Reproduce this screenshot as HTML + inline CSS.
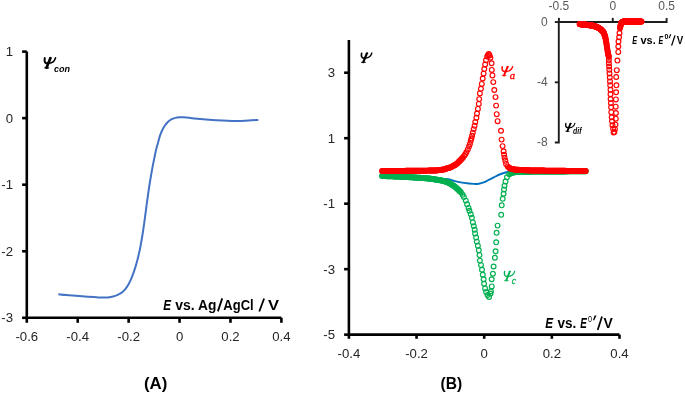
<!DOCTYPE html>
<html><head><meta charset="utf-8"><style>
html,body{margin:0;padding:0;background:#fff;width:685px;height:394px;overflow:hidden;}
svg{display:block;will-change:transform;}

</style></head><body>
<svg width="685" height="394" viewBox="0 0 685 394">
<rect width="685" height="394" fill="#fff"/>
<path d="M26.8,51.60000000000001 V317.79999999999995 H281.4" fill="none" stroke="#000" stroke-width="2.6" stroke-linejoin="miter"/>
<line x1="22.1" y1="51.60" x2="26.8" y2="51.60" stroke="#000" stroke-width="2.6"/>
<line x1="22.1" y1="118.15" x2="26.8" y2="118.15" stroke="#000" stroke-width="2.6"/>
<line x1="22.1" y1="184.70" x2="26.8" y2="184.70" stroke="#000" stroke-width="2.6"/>
<line x1="22.1" y1="251.25" x2="26.8" y2="251.25" stroke="#000" stroke-width="2.6"/>
<line x1="22.1" y1="317.80" x2="26.8" y2="317.80" stroke="#000" stroke-width="2.6"/>
<line x1="26.80" y1="317.79999999999995" x2="26.80" y2="322.8" stroke="#000" stroke-width="2.6"/>
<line x1="77.72" y1="317.79999999999995" x2="77.72" y2="322.8" stroke="#000" stroke-width="2.6"/>
<line x1="128.64" y1="317.79999999999995" x2="128.64" y2="322.8" stroke="#000" stroke-width="2.6"/>
<line x1="179.56" y1="317.79999999999995" x2="179.56" y2="322.8" stroke="#000" stroke-width="2.6"/>
<line x1="230.48" y1="317.79999999999995" x2="230.48" y2="322.8" stroke="#000" stroke-width="2.6"/>
<line x1="281.40" y1="317.79999999999995" x2="281.40" y2="322.8" stroke="#000" stroke-width="2.6"/>
<text x="13" y="56.00" text-anchor="end" font-family="Liberation Sans, sans-serif" font-size="13.2" fill="#262626">1</text>
<text x="13" y="122.55" text-anchor="end" font-family="Liberation Sans, sans-serif" font-size="13.2" fill="#262626">0</text>
<text x="13" y="189.10" text-anchor="end" font-family="Liberation Sans, sans-serif" font-size="13.2" fill="#262626">-1</text>
<text x="13" y="255.65" text-anchor="end" font-family="Liberation Sans, sans-serif" font-size="13.2" fill="#262626">-2</text>
<text x="13" y="322.20" text-anchor="end" font-family="Liberation Sans, sans-serif" font-size="13.2" fill="#262626">-3</text>
<text x="26.80" y="341" text-anchor="middle" font-family="Liberation Sans, sans-serif" font-size="13.2" fill="#262626">-0.6</text>
<text x="77.72" y="341" text-anchor="middle" font-family="Liberation Sans, sans-serif" font-size="13.2" fill="#262626">-0.4</text>
<text x="128.64" y="341" text-anchor="middle" font-family="Liberation Sans, sans-serif" font-size="13.2" fill="#262626">-0.2</text>
<text x="179.56" y="341" text-anchor="middle" font-family="Liberation Sans, sans-serif" font-size="13.2" fill="#262626">0</text>
<text x="230.48" y="341" text-anchor="middle" font-family="Liberation Sans, sans-serif" font-size="13.2" fill="#262626">0.2</text>
<text x="281.40" y="341" text-anchor="middle" font-family="Liberation Sans, sans-serif" font-size="13.2" fill="#262626">0.4</text>
<path d="M58.30,294.30 C59.63,294.43 63.43,294.85 66.30,295.10 C69.17,295.35 72.43,295.57 75.50,295.80 C78.57,296.03 81.62,296.28 84.70,296.50 C87.78,296.72 91.52,296.93 94.00,297.10 C96.48,297.27 97.73,297.42 99.60,297.50 C101.47,297.58 103.33,297.68 105.20,297.60 C107.07,297.52 109.13,297.28 110.80,297.00 C112.47,296.72 113.82,296.37 115.20,295.90 C116.58,295.43 117.88,294.85 119.10,294.20 C120.32,293.55 121.40,292.92 122.50,292.00 C123.60,291.08 124.67,290.02 125.70,288.70 C126.73,287.38 127.81,285.68 128.70,284.10 C129.59,282.52 130.28,281.03 131.06,279.20 C131.84,277.37 132.67,275.12 133.39,273.10 C134.11,271.08 134.76,269.12 135.38,267.10 C136.01,265.08 136.61,262.93 137.14,261.00 C137.66,259.07 138.11,257.23 138.52,255.50 C138.93,253.77 139.26,252.27 139.61,250.60 C139.97,248.93 140.18,248.02 140.64,245.50 C141.10,242.98 141.84,238.82 142.38,235.50 C142.91,232.18 143.38,228.92 143.85,225.60 C144.32,222.28 144.80,218.68 145.21,215.60 C145.63,212.52 146.02,209.45 146.34,207.10 C146.65,204.75 146.74,204.03 147.09,201.50 C147.44,198.97 147.92,195.40 148.44,191.90 C148.95,188.40 149.57,184.28 150.19,180.50 C150.81,176.72 151.51,172.72 152.15,169.20 C152.79,165.68 153.39,162.65 154.05,159.40 C154.70,156.15 155.42,152.52 156.10,149.70 C156.78,146.88 157.43,144.88 158.10,142.50 C158.77,140.12 159.42,137.43 160.10,135.40 C160.78,133.37 161.43,131.90 162.20,130.30 C162.97,128.70 163.77,127.18 164.70,125.80 C165.63,124.42 166.70,123.08 167.80,122.00 C168.90,120.92 170.03,119.98 171.30,119.30 C172.57,118.62 174.05,118.23 175.40,117.90 C176.75,117.57 177.97,117.40 179.40,117.30 C180.83,117.20 181.90,117.15 184.00,117.30 C186.10,117.45 189.32,117.90 192.00,118.20 C194.68,118.50 196.07,118.75 200.10,119.10 C204.13,119.45 210.30,119.97 216.20,120.30 C222.10,120.63 230.15,121.05 235.50,121.10 C240.85,121.15 244.50,120.80 248.30,120.60 C252.10,120.40 256.63,120.02 258.30,119.90" fill="none" stroke="#4472C4" stroke-width="2.0"/>
<text transform="translate(163.29,309.60) scale(0.756,1)" font-family="Liberation Sans, sans-serif" font-size="15.5" font-weight="bold" font-style="italic" fill="#000">E</text>
<text transform="translate(175.34,309.60) scale(0.901,1)" font-family="Liberation Sans, sans-serif" font-size="15.5" font-weight="bold" font-style="normal" fill="#000">vs.</text>
<text transform="translate(197.96,309.60) scale(0.889,1)" font-family="Liberation Sans, sans-serif" font-size="15.5" font-weight="bold" font-style="normal" fill="#000">Ag</text>
<line x1="217.9" y1="311.4" x2="222.2" y2="298.4" stroke="#000" stroke-width="1.8"/>
<text transform="translate(223.37,309.60) scale(0.839,1)" font-family="Liberation Sans, sans-serif" font-size="15.5" font-weight="bold" font-style="normal" fill="#000">AgCl</text>
<line x1="259.3" y1="311.5" x2="264.1" y2="298.5" stroke="#000" stroke-width="1.8"/>
<text transform="translate(267.98,309.60) scale(1.067,1)" font-family="Liberation Sans, sans-serif" font-size="15.5" font-weight="bold" font-style="normal" fill="#000">V</text>
<g transform="translate(43.4,57.3) scale(1.05,1.087)" fill="none" stroke="#000" stroke-linecap="round"><path d="M6.6,0.8 L3.0,9.5" stroke-width="2.50"/><path d="M0.9,9.75 L5.4,9.75" stroke-width="1.12" stroke-linecap="butt"/><path d="M5.5,0.75 L7.9,0.75" stroke-width="1.06" stroke-linecap="butt"/><path d="M1.3,0.7 C1.0,2.5 0.6,5.6 4.0,5.6 L5.2,5.5" stroke-width="1.88"/><path d="M11.6,0.45 C10.9,2.6 10.0,5.4 5.4,5.5" stroke-width="1.50"/></g>
<text transform="translate(54.02,72.00) scale(0.941,1)" font-family="Liberation Sans, sans-serif" font-size="9.6" font-weight="bold" font-style="italic" fill="#000">con</text>
<text transform="translate(143.96,388.90) scale(0.991,1)" font-family="Liberation Sans, sans-serif" font-size="17" font-weight="bold" font-style="normal" fill="#000">(A)</text>
<path d="M348.9,39.98 V334.64 H619.50" fill="none" stroke="#000" stroke-width="2.6"/>
<line x1="344.1" y1="72.72" x2="348.9" y2="72.72" stroke="#000" stroke-width="2.6"/>
<line x1="344.1" y1="138.20" x2="348.9" y2="138.20" stroke="#000" stroke-width="2.6"/>
<line x1="344.1" y1="203.68" x2="348.9" y2="203.68" stroke="#000" stroke-width="2.6"/>
<line x1="344.1" y1="269.16" x2="348.9" y2="269.16" stroke="#000" stroke-width="2.6"/>
<line x1="344.1" y1="334.64" x2="348.9" y2="334.64" stroke="#000" stroke-width="2.6"/>
<line x1="348.90" y1="334.64" x2="348.90" y2="338.8" stroke="#000" stroke-width="2.6"/>
<line x1="416.55" y1="334.64" x2="416.55" y2="338.8" stroke="#000" stroke-width="2.6"/>
<line x1="484.20" y1="334.64" x2="484.20" y2="338.8" stroke="#000" stroke-width="2.6"/>
<line x1="551.85" y1="334.64" x2="551.85" y2="338.8" stroke="#000" stroke-width="2.6"/>
<line x1="619.50" y1="334.64" x2="619.50" y2="338.8" stroke="#000" stroke-width="2.6"/>
<text x="335" y="77.12" text-anchor="end" font-family="Liberation Sans, sans-serif" font-size="13.2" fill="#262626">3</text>
<text x="335" y="142.60" text-anchor="end" font-family="Liberation Sans, sans-serif" font-size="13.2" fill="#262626">1</text>
<text x="335" y="208.08" text-anchor="end" font-family="Liberation Sans, sans-serif" font-size="13.2" fill="#262626">-1</text>
<text x="335" y="273.56" text-anchor="end" font-family="Liberation Sans, sans-serif" font-size="13.2" fill="#262626">-3</text>
<text x="335" y="339.04" text-anchor="end" font-family="Liberation Sans, sans-serif" font-size="13.2" fill="#262626">-5</text>
<text x="348.90" y="357.6" text-anchor="middle" font-family="Liberation Sans, sans-serif" font-size="13.2" fill="#262626">-0.4</text>
<text x="416.55" y="357.6" text-anchor="middle" font-family="Liberation Sans, sans-serif" font-size="13.2" fill="#262626">-0.2</text>
<text x="484.20" y="357.6" text-anchor="middle" font-family="Liberation Sans, sans-serif" font-size="13.2" fill="#262626">0</text>
<text x="551.85" y="357.6" text-anchor="middle" font-family="Liberation Sans, sans-serif" font-size="13.2" fill="#262626">0.2</text>
<text x="619.50" y="357.6" text-anchor="middle" font-family="Liberation Sans, sans-serif" font-size="13.2" fill="#262626">0.4</text>
<path d="M382.00,176.20 C385.00,176.30 393.67,176.50 400.00,176.80 C406.33,177.10 413.33,177.63 420.00,178.00 C426.67,178.37 435.33,178.82 440.00,179.00 C444.67,179.18 445.68,178.78 448.00,179.10 C450.32,179.42 451.25,180.27 453.90,180.90 C456.55,181.53 460.58,182.40 463.90,182.90 C467.22,183.40 471.32,183.77 473.80,183.90 C476.28,184.03 477.15,183.95 478.80,183.70 C480.45,183.45 482.05,183.03 483.70,182.40 C485.35,181.77 487.03,180.73 488.70,179.90 C490.37,179.07 491.88,178.30 493.70,177.40 C495.52,176.50 497.62,175.32 499.60,174.50 C501.58,173.68 504.12,172.92 505.60,172.50 C507.08,172.08 506.10,172.20 508.50,172.00 C510.90,171.80 507.08,171.43 520.00,171.30 C532.92,171.17 575.00,171.22 586.00,171.20" fill="none" stroke="#0070C0" stroke-width="1.9"/>
<g fill="none" stroke="#00B050" stroke-width="1.15"><circle cx="382.00" cy="176.00" r="2.4"/><circle cx="382.68" cy="176.02" r="2.4"/><circle cx="383.36" cy="176.05" r="2.4"/><circle cx="384.04" cy="176.07" r="2.4"/><circle cx="384.72" cy="176.09" r="2.4"/><circle cx="385.40" cy="176.11" r="2.4"/><circle cx="386.08" cy="176.14" r="2.4"/><circle cx="386.76" cy="176.16" r="2.4"/><circle cx="387.44" cy="176.18" r="2.4"/><circle cx="388.12" cy="176.20" r="2.4"/><circle cx="388.80" cy="176.23" r="2.4"/><circle cx="389.48" cy="176.25" r="2.4"/><circle cx="390.16" cy="176.27" r="2.4"/><circle cx="390.84" cy="176.29" r="2.4"/><circle cx="391.52" cy="176.32" r="2.4"/><circle cx="392.20" cy="176.34" r="2.4"/><circle cx="392.88" cy="176.36" r="2.4"/><circle cx="393.56" cy="176.39" r="2.4"/><circle cx="394.24" cy="176.41" r="2.4"/><circle cx="394.92" cy="176.43" r="2.4"/><circle cx="395.60" cy="176.45" r="2.4"/><circle cx="396.28" cy="176.48" r="2.4"/><circle cx="396.96" cy="176.50" r="2.4"/><circle cx="397.64" cy="176.52" r="2.4"/><circle cx="398.32" cy="176.54" r="2.4"/><circle cx="399.00" cy="176.57" r="2.4"/><circle cx="399.68" cy="176.59" r="2.4"/><circle cx="400.36" cy="176.62" r="2.4"/><circle cx="401.04" cy="176.66" r="2.4"/><circle cx="401.72" cy="176.70" r="2.4"/><circle cx="402.40" cy="176.74" r="2.4"/><circle cx="403.08" cy="176.78" r="2.4"/><circle cx="403.76" cy="176.83" r="2.4"/><circle cx="404.44" cy="176.87" r="2.4"/><circle cx="405.12" cy="176.91" r="2.4"/><circle cx="405.80" cy="176.95" r="2.4"/><circle cx="406.48" cy="176.99" r="2.4"/><circle cx="407.16" cy="177.03" r="2.4"/><circle cx="407.84" cy="177.07" r="2.4"/><circle cx="408.52" cy="177.11" r="2.4"/><circle cx="409.20" cy="177.15" r="2.4"/><circle cx="409.88" cy="177.19" r="2.4"/><circle cx="410.56" cy="177.23" r="2.4"/><circle cx="411.24" cy="177.27" r="2.4"/><circle cx="411.92" cy="177.32" r="2.4"/><circle cx="412.60" cy="177.36" r="2.4"/><circle cx="413.28" cy="177.40" r="2.4"/><circle cx="413.96" cy="177.44" r="2.4"/><circle cx="414.64" cy="177.48" r="2.4"/><circle cx="415.32" cy="177.52" r="2.4"/><circle cx="416.00" cy="177.56" r="2.4"/><circle cx="416.68" cy="177.60" r="2.4"/><circle cx="417.36" cy="177.64" r="2.4"/><circle cx="418.04" cy="177.68" r="2.4"/><circle cx="418.72" cy="177.72" r="2.4"/><circle cx="419.40" cy="177.76" r="2.4"/><circle cx="420.08" cy="177.81" r="2.4"/><circle cx="420.76" cy="177.86" r="2.4"/><circle cx="421.44" cy="177.92" r="2.4"/><circle cx="422.12" cy="177.97" r="2.4"/><circle cx="422.80" cy="178.02" r="2.4"/><circle cx="423.48" cy="178.08" r="2.4"/><circle cx="424.16" cy="178.13" r="2.4"/><circle cx="424.84" cy="178.19" r="2.4"/><circle cx="425.52" cy="178.24" r="2.4"/><circle cx="426.20" cy="178.30" r="2.4"/><circle cx="426.88" cy="178.35" r="2.4"/><circle cx="427.56" cy="178.40" r="2.4"/><circle cx="428.24" cy="178.46" r="2.4"/><circle cx="428.92" cy="178.51" r="2.4"/><circle cx="429.60" cy="178.57" r="2.4"/><circle cx="430.28" cy="178.64" r="2.4"/><circle cx="430.96" cy="178.75" r="2.4"/><circle cx="431.64" cy="178.86" r="2.4"/><circle cx="432.32" cy="178.97" r="2.4"/><circle cx="433.00" cy="179.08" r="2.4"/><circle cx="433.68" cy="179.19" r="2.4"/><circle cx="434.36" cy="179.30" r="2.4"/><circle cx="435.04" cy="179.41" r="2.4"/><circle cx="435.72" cy="179.52" r="2.4"/><circle cx="436.40" cy="179.62" r="2.4"/><circle cx="437.08" cy="179.73" r="2.4"/><circle cx="437.76" cy="179.84" r="2.4"/><circle cx="438.44" cy="179.95" r="2.4"/><circle cx="439.12" cy="180.06" r="2.4"/><circle cx="439.80" cy="180.17" r="2.4"/><circle cx="440.48" cy="180.30" r="2.4"/><circle cx="441.16" cy="180.43" r="2.4"/><circle cx="441.84" cy="180.57" r="2.4"/><circle cx="442.52" cy="180.70" r="2.4"/><circle cx="443.20" cy="180.86" r="2.4"/><circle cx="443.88" cy="181.06" r="2.4"/><circle cx="444.56" cy="181.25" r="2.4"/><circle cx="445.24" cy="181.45" r="2.4"/><circle cx="445.92" cy="181.65" r="2.4"/><circle cx="446.60" cy="181.92" r="2.4"/><circle cx="447.28" cy="182.21" r="2.4"/><circle cx="447.96" cy="182.51" r="2.4"/><circle cx="448.64" cy="182.80" r="2.4"/><circle cx="449.32" cy="183.13" r="2.4"/><circle cx="450.00" cy="183.52" r="2.4"/><circle cx="450.68" cy="183.92" r="2.4"/><circle cx="451.36" cy="184.31" r="2.4"/><circle cx="452.04" cy="184.71" r="2.4"/><circle cx="452.72" cy="185.16" r="2.4"/><circle cx="453.40" cy="185.64" r="2.4"/><circle cx="454.08" cy="186.12" r="2.4"/><circle cx="454.76" cy="186.59" r="2.4"/><circle cx="455.44" cy="187.12" r="2.4"/><circle cx="456.12" cy="187.73" r="2.4"/><circle cx="456.80" cy="188.35" r="2.4"/><circle cx="457.48" cy="188.96" r="2.4"/><circle cx="458.16" cy="189.57" r="2.4"/><circle cx="458.84" cy="190.24" r="2.4"/><circle cx="459.52" cy="190.92" r="2.4"/><circle cx="460.20" cy="191.60" r="2.4"/><circle cx="460.88" cy="192.28" r="2.4"/><circle cx="462.60" cy="194.80" r="2.4"/><circle cx="463.90" cy="197.00" r="2.4"/><circle cx="465.80" cy="200.60" r="2.4"/><circle cx="467.10" cy="204.30" r="2.4"/><circle cx="468.50" cy="207.90" r="2.4"/><circle cx="469.40" cy="210.70" r="2.4"/><circle cx="470.80" cy="214.30" r="2.4"/><circle cx="471.90" cy="217.80" r="2.4"/><circle cx="472.90" cy="222.40" r="2.4"/><circle cx="473.80" cy="226.10" r="2.4"/><circle cx="474.70" cy="229.70" r="2.4"/><circle cx="475.10" cy="233.40" r="2.4"/><circle cx="476.10" cy="237.50" r="2.4"/><circle cx="476.80" cy="241.60" r="2.4"/><circle cx="477.90" cy="245.70" r="2.4"/><circle cx="478.80" cy="250.30" r="2.4"/><circle cx="479.50" cy="255.10" r="2.4"/><circle cx="479.90" cy="260.60" r="2.4"/><circle cx="481.00" cy="265.10" r="2.4"/><circle cx="482.00" cy="269.70" r="2.4"/><circle cx="482.80" cy="274.70" r="2.4"/><circle cx="483.60" cy="279.30" r="2.4"/><circle cx="484.10" cy="283.80" r="2.4"/><circle cx="485.10" cy="288.40" r="2.4"/><circle cx="486.10" cy="292.00" r="2.4"/><circle cx="487.60" cy="295.00" r="2.4"/><circle cx="489.10" cy="297.00" r="2.4"/><circle cx="490.50" cy="293.50" r="2.4"/><circle cx="490.90" cy="291.20" r="2.4"/><circle cx="491.70" cy="286.40" r="2.4"/><circle cx="491.70" cy="279.30" r="2.4"/><circle cx="492.90" cy="273.80" r="2.4"/><circle cx="493.60" cy="266.50" r="2.4"/><circle cx="494.90" cy="257.80" r="2.4"/><circle cx="495.60" cy="251.20" r="2.4"/><circle cx="496.20" cy="242.30" r="2.4"/><circle cx="496.60" cy="232.80" r="2.4"/><circle cx="497.60" cy="225.60" r="2.4"/><circle cx="501.20" cy="214.80" r="2.4"/><circle cx="501.70" cy="205.30" r="2.4"/><circle cx="502.70" cy="198.80" r="2.4"/><circle cx="503.60" cy="193.70" r="2.4"/><circle cx="504.00" cy="189.40" r="2.4"/><circle cx="504.50" cy="185.80" r="2.4"/><circle cx="505.50" cy="181.50" r="2.4"/><circle cx="507.00" cy="177.20" r="2.4"/><circle cx="509.40" cy="174.20" r="2.4"/><circle cx="511.00" cy="173.20" r="2.4"/><circle cx="511.68" cy="172.93" r="2.4"/><circle cx="512.36" cy="172.66" r="2.4"/><circle cx="513.04" cy="172.40" r="2.4"/><circle cx="513.72" cy="172.32" r="2.4"/><circle cx="514.40" cy="172.24" r="2.4"/><circle cx="515.08" cy="172.17" r="2.4"/><circle cx="515.76" cy="172.09" r="2.4"/><circle cx="516.44" cy="172.02" r="2.4"/><circle cx="517.12" cy="171.94" r="2.4"/><circle cx="517.80" cy="171.87" r="2.4"/><circle cx="518.48" cy="171.80" r="2.4"/><circle cx="519.16" cy="171.79" r="2.4"/><circle cx="519.84" cy="171.78" r="2.4"/><circle cx="520.52" cy="171.77" r="2.4"/><circle cx="521.20" cy="171.76" r="2.4"/><circle cx="521.88" cy="171.75" r="2.4"/><circle cx="522.56" cy="171.74" r="2.4"/><circle cx="523.24" cy="171.73" r="2.4"/><circle cx="523.92" cy="171.72" r="2.4"/><circle cx="524.60" cy="171.71" r="2.4"/><circle cx="525.28" cy="171.70" r="2.4"/><circle cx="525.96" cy="171.69" r="2.4"/><circle cx="526.64" cy="171.69" r="2.4"/><circle cx="527.32" cy="171.68" r="2.4"/><circle cx="528.00" cy="171.67" r="2.4"/><circle cx="528.68" cy="171.66" r="2.4"/><circle cx="529.36" cy="171.65" r="2.4"/><circle cx="530.04" cy="171.64" r="2.4"/><circle cx="530.72" cy="171.63" r="2.4"/><circle cx="531.40" cy="171.62" r="2.4"/><circle cx="532.08" cy="171.61" r="2.4"/><circle cx="532.76" cy="171.60" r="2.4"/><circle cx="533.44" cy="171.59" r="2.4"/><circle cx="534.12" cy="171.58" r="2.4"/><circle cx="534.80" cy="171.57" r="2.4"/><circle cx="535.48" cy="171.56" r="2.4"/><circle cx="536.16" cy="171.55" r="2.4"/><circle cx="536.84" cy="171.54" r="2.4"/><circle cx="537.52" cy="171.53" r="2.4"/><circle cx="538.20" cy="171.53" r="2.4"/><circle cx="538.88" cy="171.52" r="2.4"/><circle cx="539.56" cy="171.51" r="2.4"/><circle cx="540.24" cy="171.50" r="2.4"/><circle cx="540.92" cy="171.50" r="2.4"/><circle cx="541.60" cy="171.49" r="2.4"/><circle cx="542.28" cy="171.49" r="2.4"/><circle cx="542.96" cy="171.49" r="2.4"/><circle cx="543.64" cy="171.48" r="2.4"/><circle cx="544.32" cy="171.48" r="2.4"/><circle cx="545.00" cy="171.48" r="2.4"/><circle cx="545.68" cy="171.48" r="2.4"/><circle cx="546.36" cy="171.47" r="2.4"/><circle cx="547.04" cy="171.47" r="2.4"/><circle cx="547.72" cy="171.47" r="2.4"/><circle cx="548.40" cy="171.46" r="2.4"/><circle cx="549.08" cy="171.46" r="2.4"/><circle cx="549.76" cy="171.46" r="2.4"/><circle cx="550.44" cy="171.45" r="2.4"/><circle cx="551.12" cy="171.45" r="2.4"/><circle cx="551.80" cy="171.45" r="2.4"/><circle cx="552.48" cy="171.45" r="2.4"/><circle cx="553.16" cy="171.44" r="2.4"/><circle cx="553.84" cy="171.44" r="2.4"/><circle cx="554.52" cy="171.44" r="2.4"/><circle cx="555.20" cy="171.43" r="2.4"/><circle cx="555.88" cy="171.43" r="2.4"/><circle cx="556.56" cy="171.43" r="2.4"/><circle cx="557.24" cy="171.43" r="2.4"/><circle cx="557.92" cy="171.42" r="2.4"/><circle cx="558.60" cy="171.42" r="2.4"/><circle cx="559.28" cy="171.42" r="2.4"/><circle cx="559.96" cy="171.41" r="2.4"/><circle cx="560.64" cy="171.41" r="2.4"/><circle cx="561.32" cy="171.41" r="2.4"/><circle cx="562.00" cy="171.40" r="2.4"/><circle cx="562.68" cy="171.40" r="2.4"/><circle cx="563.36" cy="171.40" r="2.4"/><circle cx="564.04" cy="171.40" r="2.4"/><circle cx="564.72" cy="171.39" r="2.4"/><circle cx="565.40" cy="171.39" r="2.4"/><circle cx="566.08" cy="171.39" r="2.4"/><circle cx="566.76" cy="171.38" r="2.4"/><circle cx="567.44" cy="171.38" r="2.4"/><circle cx="568.12" cy="171.38" r="2.4"/><circle cx="568.80" cy="171.37" r="2.4"/><circle cx="569.48" cy="171.37" r="2.4"/><circle cx="570.16" cy="171.37" r="2.4"/><circle cx="570.84" cy="171.37" r="2.4"/><circle cx="571.52" cy="171.36" r="2.4"/><circle cx="572.20" cy="171.36" r="2.4"/><circle cx="572.88" cy="171.36" r="2.4"/><circle cx="573.56" cy="171.35" r="2.4"/><circle cx="574.24" cy="171.35" r="2.4"/><circle cx="574.92" cy="171.35" r="2.4"/><circle cx="575.60" cy="171.35" r="2.4"/><circle cx="576.28" cy="171.34" r="2.4"/><circle cx="576.96" cy="171.34" r="2.4"/><circle cx="577.64" cy="171.34" r="2.4"/><circle cx="578.32" cy="171.33" r="2.4"/><circle cx="579.00" cy="171.33" r="2.4"/><circle cx="579.68" cy="171.33" r="2.4"/><circle cx="580.36" cy="171.32" r="2.4"/><circle cx="581.04" cy="171.32" r="2.4"/><circle cx="581.72" cy="171.32" r="2.4"/><circle cx="582.40" cy="171.32" r="2.4"/><circle cx="583.08" cy="171.31" r="2.4"/><circle cx="583.76" cy="171.31" r="2.4"/><circle cx="584.44" cy="171.31" r="2.4"/><circle cx="585.12" cy="171.30" r="2.4"/><circle cx="585.80" cy="171.30" r="2.4"/></g>
<g fill="none" stroke="#FF0000" stroke-width="1.15"><circle cx="382.00" cy="171.00" r="2.4"/><circle cx="382.68" cy="171.00" r="2.4"/><circle cx="383.36" cy="170.99" r="2.4"/><circle cx="384.04" cy="170.99" r="2.4"/><circle cx="384.72" cy="170.98" r="2.4"/><circle cx="385.40" cy="170.98" r="2.4"/><circle cx="386.08" cy="170.98" r="2.4"/><circle cx="386.76" cy="170.97" r="2.4"/><circle cx="387.44" cy="170.97" r="2.4"/><circle cx="388.12" cy="170.97" r="2.4"/><circle cx="388.80" cy="170.96" r="2.4"/><circle cx="389.48" cy="170.96" r="2.4"/><circle cx="390.16" cy="170.95" r="2.4"/><circle cx="390.84" cy="170.95" r="2.4"/><circle cx="391.52" cy="170.95" r="2.4"/><circle cx="392.20" cy="170.94" r="2.4"/><circle cx="392.88" cy="170.94" r="2.4"/><circle cx="393.56" cy="170.94" r="2.4"/><circle cx="394.24" cy="170.93" r="2.4"/><circle cx="394.92" cy="170.93" r="2.4"/><circle cx="395.60" cy="170.92" r="2.4"/><circle cx="396.28" cy="170.92" r="2.4"/><circle cx="396.96" cy="170.92" r="2.4"/><circle cx="397.64" cy="170.91" r="2.4"/><circle cx="398.32" cy="170.91" r="2.4"/><circle cx="399.00" cy="170.91" r="2.4"/><circle cx="399.68" cy="170.90" r="2.4"/><circle cx="400.36" cy="170.90" r="2.4"/><circle cx="401.04" cy="170.89" r="2.4"/><circle cx="401.72" cy="170.88" r="2.4"/><circle cx="402.40" cy="170.88" r="2.4"/><circle cx="403.08" cy="170.87" r="2.4"/><circle cx="403.76" cy="170.86" r="2.4"/><circle cx="404.44" cy="170.86" r="2.4"/><circle cx="405.12" cy="170.85" r="2.4"/><circle cx="405.80" cy="170.84" r="2.4"/><circle cx="406.48" cy="170.84" r="2.4"/><circle cx="407.16" cy="170.83" r="2.4"/><circle cx="407.84" cy="170.82" r="2.4"/><circle cx="408.52" cy="170.81" r="2.4"/><circle cx="409.20" cy="170.81" r="2.4"/><circle cx="409.88" cy="170.80" r="2.4"/><circle cx="410.56" cy="170.79" r="2.4"/><circle cx="411.24" cy="170.79" r="2.4"/><circle cx="411.92" cy="170.78" r="2.4"/><circle cx="412.60" cy="170.77" r="2.4"/><circle cx="413.28" cy="170.77" r="2.4"/><circle cx="413.96" cy="170.76" r="2.4"/><circle cx="414.64" cy="170.75" r="2.4"/><circle cx="415.32" cy="170.75" r="2.4"/><circle cx="416.00" cy="170.74" r="2.4"/><circle cx="416.68" cy="170.73" r="2.4"/><circle cx="417.36" cy="170.73" r="2.4"/><circle cx="418.04" cy="170.72" r="2.4"/><circle cx="418.72" cy="170.71" r="2.4"/><circle cx="419.40" cy="170.71" r="2.4"/><circle cx="420.08" cy="170.70" r="2.4"/><circle cx="420.76" cy="170.69" r="2.4"/><circle cx="421.44" cy="170.68" r="2.4"/><circle cx="422.12" cy="170.67" r="2.4"/><circle cx="422.80" cy="170.66" r="2.4"/><circle cx="423.48" cy="170.66" r="2.4"/><circle cx="424.16" cy="170.65" r="2.4"/><circle cx="424.84" cy="170.64" r="2.4"/><circle cx="425.52" cy="170.63" r="2.4"/><circle cx="426.20" cy="170.62" r="2.4"/><circle cx="426.88" cy="170.61" r="2.4"/><circle cx="427.56" cy="170.61" r="2.4"/><circle cx="428.24" cy="170.60" r="2.4"/><circle cx="428.92" cy="170.59" r="2.4"/><circle cx="429.60" cy="170.58" r="2.4"/><circle cx="430.28" cy="170.57" r="2.4"/><circle cx="430.96" cy="170.56" r="2.4"/><circle cx="431.64" cy="170.55" r="2.4"/><circle cx="432.32" cy="170.55" r="2.4"/><circle cx="433.00" cy="170.54" r="2.4"/><circle cx="433.68" cy="170.53" r="2.4"/><circle cx="434.36" cy="170.52" r="2.4"/><circle cx="435.04" cy="170.51" r="2.4"/><circle cx="435.72" cy="170.50" r="2.4"/><circle cx="436.40" cy="170.45" r="2.4"/><circle cx="437.08" cy="170.36" r="2.4"/><circle cx="437.76" cy="170.27" r="2.4"/><circle cx="438.44" cy="170.18" r="2.4"/><circle cx="439.12" cy="170.09" r="2.4"/><circle cx="439.80" cy="170.00" r="2.4"/><circle cx="440.48" cy="169.91" r="2.4"/><circle cx="441.16" cy="169.82" r="2.4"/><circle cx="441.84" cy="169.73" r="2.4"/><circle cx="442.52" cy="169.64" r="2.4"/><circle cx="443.20" cy="169.55" r="2.4"/><circle cx="443.88" cy="169.41" r="2.4"/><circle cx="444.56" cy="169.20" r="2.4"/><circle cx="445.24" cy="168.98" r="2.4"/><circle cx="445.92" cy="168.77" r="2.4"/><circle cx="446.60" cy="168.55" r="2.4"/><circle cx="447.28" cy="168.34" r="2.4"/><circle cx="447.96" cy="168.12" r="2.4"/><circle cx="448.64" cy="167.91" r="2.4"/><circle cx="449.32" cy="167.69" r="2.4"/><circle cx="450.00" cy="167.48" r="2.4"/><circle cx="450.68" cy="167.26" r="2.4"/><circle cx="451.36" cy="167.01" r="2.4"/><circle cx="452.04" cy="166.62" r="2.4"/><circle cx="452.72" cy="166.23" r="2.4"/><circle cx="453.40" cy="165.84" r="2.4"/><circle cx="454.08" cy="165.45" r="2.4"/><circle cx="454.76" cy="165.06" r="2.4"/><circle cx="455.44" cy="164.67" r="2.4"/><circle cx="456.12" cy="164.28" r="2.4"/><circle cx="456.80" cy="163.80" r="2.4"/><circle cx="457.48" cy="163.12" r="2.4"/><circle cx="458.16" cy="162.44" r="2.4"/><circle cx="458.84" cy="161.76" r="2.4"/><circle cx="459.52" cy="161.08" r="2.4"/><circle cx="460.20" cy="160.40" r="2.4"/><circle cx="460.88" cy="159.69" r="2.4"/><circle cx="461.56" cy="158.96" r="2.4"/><circle cx="462.24" cy="158.23" r="2.4"/><circle cx="462.92" cy="157.50" r="2.4"/><circle cx="464.20" cy="155.80" r="2.4"/><circle cx="465.30" cy="154.30" r="2.4"/><circle cx="466.40" cy="152.20" r="2.4"/><circle cx="467.80" cy="149.40" r="2.4"/><circle cx="469.00" cy="146.50" r="2.4"/><circle cx="469.90" cy="143.90" r="2.4"/><circle cx="470.80" cy="140.70" r="2.4"/><circle cx="471.40" cy="138.50" r="2.4"/><circle cx="472.10" cy="135.70" r="2.4"/><circle cx="472.80" cy="132.80" r="2.4"/><circle cx="473.70" cy="129.10" r="2.4"/><circle cx="474.60" cy="125.80" r="2.4"/><circle cx="475.30" cy="122.00" r="2.4"/><circle cx="476.40" cy="117.80" r="2.4"/><circle cx="477.00" cy="113.50" r="2.4"/><circle cx="477.90" cy="108.90" r="2.4"/><circle cx="478.80" cy="103.90" r="2.4"/><circle cx="479.20" cy="99.10" r="2.4"/><circle cx="479.90" cy="93.40" r="2.4"/><circle cx="480.90" cy="88.80" r="2.4"/><circle cx="481.80" cy="83.90" r="2.4"/><circle cx="482.70" cy="78.50" r="2.4"/><circle cx="483.60" cy="73.60" r="2.4"/><circle cx="484.30" cy="69.00" r="2.4"/><circle cx="485.10" cy="64.40" r="2.4"/><circle cx="486.00" cy="60.20" r="2.4"/><circle cx="487.20" cy="56.50" r="2.4"/><circle cx="488.00" cy="55.00" r="2.4"/><circle cx="488.80" cy="54.10" r="2.4"/><circle cx="489.60" cy="55.40" r="2.4"/><circle cx="490.40" cy="57.70" r="2.4"/><circle cx="491.60" cy="63.20" r="2.4"/><circle cx="491.80" cy="69.90" r="2.4"/><circle cx="492.40" cy="75.40" r="2.4"/><circle cx="493.30" cy="82.10" r="2.4"/><circle cx="494.30" cy="90.00" r="2.4"/><circle cx="495.50" cy="97.10" r="2.4"/><circle cx="496.10" cy="105.60" r="2.4"/><circle cx="496.70" cy="114.20" r="2.4"/><circle cx="497.60" cy="121.20" r="2.4"/><circle cx="501.00" cy="130.70" r="2.4"/><circle cx="501.60" cy="139.60" r="2.4"/><circle cx="502.60" cy="146.10" r="2.4"/><circle cx="503.60" cy="151.20" r="2.4"/><circle cx="504.10" cy="154.80" r="2.4"/><circle cx="504.60" cy="157.80" r="2.4"/><circle cx="505.30" cy="160.80" r="2.4"/><circle cx="506.10" cy="163.90" r="2.4"/><circle cx="507.70" cy="166.40" r="2.4"/><circle cx="508.90" cy="167.60" r="2.4"/><circle cx="509.58" cy="168.07" r="2.4"/><circle cx="510.26" cy="168.51" r="2.4"/><circle cx="510.94" cy="168.69" r="2.4"/><circle cx="511.62" cy="168.85" r="2.4"/><circle cx="512.30" cy="169.02" r="2.4"/><circle cx="512.98" cy="169.19" r="2.4"/><circle cx="513.66" cy="169.37" r="2.4"/><circle cx="514.34" cy="169.51" r="2.4"/><circle cx="515.02" cy="169.56" r="2.4"/><circle cx="515.70" cy="169.61" r="2.4"/><circle cx="516.38" cy="169.65" r="2.4"/><circle cx="517.06" cy="169.70" r="2.4"/><circle cx="517.74" cy="169.75" r="2.4"/><circle cx="518.42" cy="169.80" r="2.4"/><circle cx="519.10" cy="169.85" r="2.4"/><circle cx="519.78" cy="169.89" r="2.4"/><circle cx="520.46" cy="169.94" r="2.4"/><circle cx="521.14" cy="169.99" r="2.4"/><circle cx="521.82" cy="170.02" r="2.4"/><circle cx="522.50" cy="170.06" r="2.4"/><circle cx="523.18" cy="170.09" r="2.4"/><circle cx="523.86" cy="170.12" r="2.4"/><circle cx="524.54" cy="170.15" r="2.4"/><circle cx="525.22" cy="170.18" r="2.4"/><circle cx="525.90" cy="170.21" r="2.4"/><circle cx="526.58" cy="170.24" r="2.4"/><circle cx="527.26" cy="170.27" r="2.4"/><circle cx="527.94" cy="170.31" r="2.4"/><circle cx="528.62" cy="170.34" r="2.4"/><circle cx="529.30" cy="170.37" r="2.4"/><circle cx="529.98" cy="170.40" r="2.4"/><circle cx="530.66" cy="170.41" r="2.4"/><circle cx="531.34" cy="170.42" r="2.4"/><circle cx="532.02" cy="170.43" r="2.4"/><circle cx="532.70" cy="170.44" r="2.4"/><circle cx="533.38" cy="170.45" r="2.4"/><circle cx="534.06" cy="170.45" r="2.4"/><circle cx="534.74" cy="170.46" r="2.4"/><circle cx="535.42" cy="170.47" r="2.4"/><circle cx="536.10" cy="170.48" r="2.4"/><circle cx="536.78" cy="170.49" r="2.4"/><circle cx="537.46" cy="170.50" r="2.4"/><circle cx="538.14" cy="170.51" r="2.4"/><circle cx="538.82" cy="170.52" r="2.4"/><circle cx="539.50" cy="170.53" r="2.4"/><circle cx="540.18" cy="170.54" r="2.4"/><circle cx="540.86" cy="170.54" r="2.4"/><circle cx="541.54" cy="170.55" r="2.4"/><circle cx="542.22" cy="170.56" r="2.4"/><circle cx="542.90" cy="170.57" r="2.4"/><circle cx="543.58" cy="170.58" r="2.4"/><circle cx="544.26" cy="170.59" r="2.4"/><circle cx="544.94" cy="170.60" r="2.4"/><circle cx="545.62" cy="170.61" r="2.4"/><circle cx="546.30" cy="170.62" r="2.4"/><circle cx="546.98" cy="170.63" r="2.4"/><circle cx="547.66" cy="170.64" r="2.4"/><circle cx="548.34" cy="170.64" r="2.4"/><circle cx="549.02" cy="170.65" r="2.4"/><circle cx="549.70" cy="170.66" r="2.4"/><circle cx="550.38" cy="170.67" r="2.4"/><circle cx="551.06" cy="170.68" r="2.4"/><circle cx="551.74" cy="170.69" r="2.4"/><circle cx="552.42" cy="170.70" r="2.4"/><circle cx="553.10" cy="170.71" r="2.4"/><circle cx="553.78" cy="170.72" r="2.4"/><circle cx="554.46" cy="170.73" r="2.4"/><circle cx="555.14" cy="170.74" r="2.4"/><circle cx="555.82" cy="170.74" r="2.4"/><circle cx="556.50" cy="170.75" r="2.4"/><circle cx="557.18" cy="170.76" r="2.4"/><circle cx="557.86" cy="170.77" r="2.4"/><circle cx="558.54" cy="170.78" r="2.4"/><circle cx="559.22" cy="170.79" r="2.4"/><circle cx="559.90" cy="170.80" r="2.4"/><circle cx="560.58" cy="170.80" r="2.4"/><circle cx="561.26" cy="170.81" r="2.4"/><circle cx="561.94" cy="170.81" r="2.4"/><circle cx="562.62" cy="170.82" r="2.4"/><circle cx="563.30" cy="170.83" r="2.4"/><circle cx="563.98" cy="170.83" r="2.4"/><circle cx="564.66" cy="170.84" r="2.4"/><circle cx="565.34" cy="170.84" r="2.4"/><circle cx="566.02" cy="170.85" r="2.4"/><circle cx="566.70" cy="170.85" r="2.4"/><circle cx="567.38" cy="170.86" r="2.4"/><circle cx="568.06" cy="170.86" r="2.4"/><circle cx="568.74" cy="170.87" r="2.4"/><circle cx="569.42" cy="170.87" r="2.4"/><circle cx="570.10" cy="170.88" r="2.4"/><circle cx="570.78" cy="170.88" r="2.4"/><circle cx="571.46" cy="170.89" r="2.4"/><circle cx="572.14" cy="170.89" r="2.4"/><circle cx="572.82" cy="170.90" r="2.4"/><circle cx="573.50" cy="170.90" r="2.4"/><circle cx="574.18" cy="170.91" r="2.4"/><circle cx="574.86" cy="170.91" r="2.4"/><circle cx="575.54" cy="170.92" r="2.4"/><circle cx="576.22" cy="170.92" r="2.4"/><circle cx="576.90" cy="170.93" r="2.4"/><circle cx="577.58" cy="170.94" r="2.4"/><circle cx="578.26" cy="170.94" r="2.4"/><circle cx="578.94" cy="170.95" r="2.4"/><circle cx="579.62" cy="170.95" r="2.4"/><circle cx="580.30" cy="170.96" r="2.4"/><circle cx="580.98" cy="170.96" r="2.4"/><circle cx="581.66" cy="170.97" r="2.4"/><circle cx="582.34" cy="170.97" r="2.4"/><circle cx="583.02" cy="170.98" r="2.4"/><circle cx="583.70" cy="170.98" r="2.4"/><circle cx="584.38" cy="170.99" r="2.4"/><circle cx="585.06" cy="170.99" r="2.4"/><circle cx="585.74" cy="171.00" r="2.4"/></g>
<text transform="translate(545.29,327.80) scale(0.756,1)" font-family="Liberation Sans, sans-serif" font-size="15.5" font-weight="bold" font-style="italic" fill="#000">E</text>
<text transform="translate(557.45,327.80) scale(0.872,1)" font-family="Liberation Sans, sans-serif" font-size="15.5" font-weight="bold" font-style="normal" fill="#000">vs.</text>
<text transform="translate(580.22,327.80) scale(0.641,1)" font-family="Liberation Sans, sans-serif" font-size="15.5" font-weight="bold" font-style="italic" fill="#000">E</text>
<text transform="translate(587.92,322.20) scale(0.749,1)" font-family="Liberation Sans, sans-serif" font-size="9.5" font-weight="normal" font-style="normal" fill="#000">0</text>
<path d="M593.0,320.2 L594.3,320.2 L596.4,315.6 L594.6,315.6 Z" fill="#000"/>
<line x1="597.7" y1="330.0" x2="602.0" y2="316.4" stroke="#000" stroke-width="1.7"/>
<text transform="translate(603.60,327.80) scale(0.899,1)" font-family="Liberation Sans, sans-serif" font-size="15.5" font-weight="bold" font-style="normal" fill="#000">V</text>
<g transform="translate(360.3,52.6) scale(1.0,1.0)" fill="none" stroke="#000" stroke-linecap="round"><path d="M6.6,0.8 L3.0,9.5" stroke-width="2.24"/><path d="M0.9,9.75 L5.4,9.75" stroke-width="1.01" stroke-linecap="butt"/><path d="M5.5,0.75 L7.9,0.75" stroke-width="0.95" stroke-linecap="butt"/><path d="M1.3,0.7 C1.0,2.5 0.6,5.6 4.0,5.6 L5.2,5.5" stroke-width="1.68"/><path d="M11.6,0.45 C10.9,2.6 10.0,5.4 5.4,5.5" stroke-width="1.34"/></g>
<g transform="translate(500.9,66.0) scale(1.025,0.99)" fill="none" stroke="#FF0000" stroke-linecap="round"><path d="M6.6,0.8 L3.0,9.5" stroke-width="1.90"/><path d="M0.9,9.75 L5.4,9.75" stroke-width="0.85" stroke-linecap="butt"/><path d="M5.5,0.75 L7.9,0.75" stroke-width="0.81" stroke-linecap="butt"/><path d="M1.3,0.7 C1.0,2.5 0.6,5.6 4.0,5.6 L5.2,5.5" stroke-width="1.42"/><path d="M11.6,0.45 C10.9,2.6 10.0,5.4 5.4,5.5" stroke-width="1.14"/></g>
<text transform="translate(509.78,78.50) scale(1.024,1)" font-family="Liberation Serif, serif" font-size="10.4" font-weight="normal" font-style="italic" fill="#FF0000" stroke="#FF0000" stroke-width="0.35">a</text>
<g transform="translate(503.3,270.8) scale(0.983,1.01)" fill="none" stroke="#00B050" stroke-linecap="round"><path d="M6.6,0.8 L3.0,9.5" stroke-width="1.90"/><path d="M0.9,9.75 L5.4,9.75" stroke-width="0.85" stroke-linecap="butt"/><path d="M5.5,0.75 L7.9,0.75" stroke-width="0.81" stroke-linecap="butt"/><path d="M1.3,0.7 C1.0,2.5 0.6,5.6 4.0,5.6 L5.2,5.5" stroke-width="1.42"/><path d="M11.6,0.45 C10.9,2.6 10.0,5.4 5.4,5.5" stroke-width="1.14"/></g>
<text transform="translate(511.72,283.60) scale(0.829,1)" font-family="Liberation Serif, serif" font-size="10.8" font-weight="normal" font-style="italic" fill="#00B050" stroke="#00B050" stroke-width="0.35">c</text>
<text transform="translate(440.52,388.90) scale(0.918,1)" font-family="Liberation Sans, sans-serif" font-size="17" font-weight="bold" font-style="normal" fill="#000">(B)</text>
<path d="M666.60,17.9 V22.05 H558.90 M558.8,22.05 V142.57 H554.8" fill="none" stroke="#1e1e1e" stroke-width="1.9"/>
<g stroke="#1e1e1e" stroke-width="1.9">
<line x1="558.90" y1="17.9" x2="558.90" y2="22.05"/>
<line x1="612.75" y1="17.9" x2="612.75" y2="22.05"/>
<line x1="554.8" y1="22.05" x2="558.8" y2="22.05"/>
<line x1="554.8" y1="82.31" x2="558.8" y2="82.31"/>
</g>
<g fill="none" stroke="#FF0000" stroke-width="1.15"><circle cx="579.60" cy="24.10" r="2.4"/><circle cx="579.81" cy="24.12" r="2.4"/><circle cx="580.01" cy="24.14" r="2.4"/><circle cx="580.22" cy="24.16" r="2.4"/><circle cx="580.43" cy="24.18" r="2.4"/><circle cx="580.63" cy="24.20" r="2.4"/><circle cx="580.84" cy="24.22" r="2.4"/><circle cx="581.05" cy="24.24" r="2.4"/><circle cx="581.26" cy="24.26" r="2.4"/><circle cx="581.46" cy="24.28" r="2.4"/><circle cx="581.67" cy="24.30" r="2.4"/><circle cx="581.88" cy="24.32" r="2.4"/><circle cx="582.08" cy="24.34" r="2.4"/><circle cx="582.29" cy="24.36" r="2.4"/><circle cx="582.50" cy="24.39" r="2.4"/><circle cx="582.70" cy="24.41" r="2.4"/><circle cx="582.91" cy="24.43" r="2.4"/><circle cx="583.12" cy="24.45" r="2.4"/><circle cx="583.33" cy="24.47" r="2.4"/><circle cx="583.53" cy="24.49" r="2.4"/><circle cx="583.74" cy="24.51" r="2.4"/><circle cx="583.95" cy="24.53" r="2.4"/><circle cx="584.15" cy="24.55" r="2.4"/><circle cx="584.36" cy="24.57" r="2.4"/><circle cx="584.57" cy="24.59" r="2.4"/><circle cx="584.77" cy="24.61" r="2.4"/><circle cx="584.98" cy="24.63" r="2.4"/><circle cx="585.19" cy="24.65" r="2.4"/><circle cx="585.40" cy="24.67" r="2.4"/><circle cx="585.60" cy="24.69" r="2.4"/><circle cx="585.81" cy="24.71" r="2.4"/><circle cx="586.02" cy="24.74" r="2.4"/><circle cx="586.22" cy="24.77" r="2.4"/><circle cx="586.43" cy="24.80" r="2.4"/><circle cx="586.64" cy="24.82" r="2.4"/><circle cx="586.84" cy="24.85" r="2.4"/><circle cx="587.05" cy="24.88" r="2.4"/><circle cx="587.26" cy="24.90" r="2.4"/><circle cx="587.47" cy="24.93" r="2.4"/><circle cx="587.67" cy="24.96" r="2.4"/><circle cx="587.88" cy="24.99" r="2.4"/><circle cx="588.09" cy="25.01" r="2.4"/><circle cx="588.29" cy="25.04" r="2.4"/><circle cx="588.50" cy="25.07" r="2.4"/><circle cx="588.71" cy="25.09" r="2.4"/><circle cx="588.91" cy="25.12" r="2.4"/><circle cx="589.12" cy="25.15" r="2.4"/><circle cx="589.33" cy="25.18" r="2.4"/><circle cx="589.54" cy="25.20" r="2.4"/><circle cx="589.74" cy="25.23" r="2.4"/><circle cx="589.95" cy="25.26" r="2.4"/><circle cx="590.16" cy="25.28" r="2.4"/><circle cx="590.36" cy="25.31" r="2.4"/><circle cx="590.57" cy="25.34" r="2.4"/><circle cx="590.78" cy="25.37" r="2.4"/><circle cx="590.98" cy="25.39" r="2.4"/><circle cx="591.19" cy="25.42" r="2.4"/><circle cx="591.40" cy="25.45" r="2.4"/><circle cx="591.61" cy="25.47" r="2.4"/><circle cx="591.81" cy="25.50" r="2.4"/><circle cx="592.02" cy="25.56" r="2.4"/><circle cx="592.23" cy="25.61" r="2.4"/><circle cx="592.43" cy="25.67" r="2.4"/><circle cx="592.64" cy="25.72" r="2.4"/><circle cx="592.85" cy="25.78" r="2.4"/><circle cx="593.05" cy="25.83" r="2.4"/><circle cx="593.26" cy="25.89" r="2.4"/><circle cx="593.47" cy="25.94" r="2.4"/><circle cx="593.68" cy="26.00" r="2.4"/><circle cx="593.88" cy="26.05" r="2.4"/><circle cx="594.09" cy="26.11" r="2.4"/><circle cx="594.30" cy="26.16" r="2.4"/><circle cx="594.50" cy="26.22" r="2.4"/><circle cx="594.71" cy="26.27" r="2.4"/><circle cx="594.92" cy="26.33" r="2.4"/><circle cx="595.12" cy="26.38" r="2.4"/><circle cx="595.33" cy="26.44" r="2.4"/><circle cx="595.54" cy="26.49" r="2.4"/><circle cx="595.75" cy="26.55" r="2.4"/><circle cx="595.95" cy="26.60" r="2.4"/><circle cx="596.16" cy="26.66" r="2.4"/><circle cx="596.37" cy="26.71" r="2.4"/><circle cx="596.57" cy="26.77" r="2.4"/><circle cx="596.78" cy="26.85" r="2.4"/><circle cx="596.99" cy="26.98" r="2.4"/><circle cx="597.19" cy="27.10" r="2.4"/><circle cx="597.40" cy="27.23" r="2.4"/><circle cx="597.61" cy="27.36" r="2.4"/><circle cx="597.82" cy="27.48" r="2.4"/><circle cx="598.02" cy="27.61" r="2.4"/><circle cx="598.23" cy="27.73" r="2.4"/><circle cx="598.44" cy="27.86" r="2.4"/><circle cx="598.64" cy="27.99" r="2.4"/><circle cx="598.85" cy="28.11" r="2.4"/><circle cx="599.06" cy="28.24" r="2.4"/><circle cx="599.26" cy="28.37" r="2.4"/><circle cx="599.47" cy="28.49" r="2.4"/><circle cx="599.68" cy="28.62" r="2.4"/><circle cx="599.89" cy="28.75" r="2.4"/><circle cx="600.09" cy="28.87" r="2.4"/><circle cx="600.30" cy="29.00" r="2.4"/><circle cx="600.51" cy="29.21" r="2.4"/><circle cx="600.71" cy="29.41" r="2.4"/><circle cx="600.92" cy="29.62" r="2.4"/><circle cx="601.13" cy="29.83" r="2.4"/><circle cx="601.33" cy="30.03" r="2.4"/><circle cx="601.54" cy="30.24" r="2.4"/><circle cx="601.75" cy="30.45" r="2.4"/><circle cx="601.96" cy="30.66" r="2.4"/><circle cx="602.16" cy="30.86" r="2.4"/><circle cx="602.37" cy="31.07" r="2.4"/><circle cx="602.58" cy="31.28" r="2.4"/><circle cx="602.78" cy="31.48" r="2.4"/><circle cx="602.99" cy="31.69" r="2.4"/><circle cx="603.20" cy="31.90" r="2.4"/><circle cx="603.40" cy="32.10" r="2.4"/><circle cx="603.61" cy="32.49" r="2.4"/><circle cx="603.82" cy="33.03" r="2.4"/><circle cx="604.03" cy="33.56" r="2.4"/><circle cx="604.23" cy="34.10" r="2.4"/><circle cx="604.44" cy="34.63" r="2.4"/><circle cx="604.65" cy="35.17" r="2.4"/><circle cx="604.85" cy="35.70" r="2.4"/><circle cx="605.06" cy="36.24" r="2.4"/><circle cx="605.27" cy="36.96" r="2.4"/><circle cx="605.47" cy="38.06" r="2.4"/><circle cx="605.68" cy="39.15" r="2.4"/><circle cx="605.89" cy="40.25" r="2.4"/><circle cx="606.10" cy="41.35" r="2.4"/><circle cx="606.30" cy="42.58" r="2.4"/><circle cx="606.51" cy="43.93" r="2.4"/><circle cx="606.72" cy="45.29" r="2.4"/><circle cx="606.92" cy="46.65" r="2.4"/><circle cx="607.13" cy="48.00" r="2.4"/><circle cx="607.34" cy="49.35" r="2.4"/><circle cx="607.54" cy="50.69" r="2.4"/><circle cx="607.75" cy="52.04" r="2.4"/><circle cx="607.96" cy="53.25" r="2.4"/><circle cx="608.17" cy="54.14" r="2.4"/><circle cx="608.37" cy="55.03" r="2.4"/><circle cx="608.58" cy="55.91" r="2.4"/><circle cx="608.90" cy="56.90" r="2.4"/><circle cx="608.90" cy="60.10" r="2.4"/><circle cx="608.90" cy="63.30" r="2.4"/><circle cx="609.10" cy="66.50" r="2.4"/><circle cx="609.30" cy="69.70" r="2.4"/><circle cx="609.50" cy="73.40" r="2.4"/><circle cx="609.80" cy="77.50" r="2.4"/><circle cx="610.00" cy="81.40" r="2.4"/><circle cx="610.20" cy="85.30" r="2.4"/><circle cx="610.50" cy="89.80" r="2.4"/><circle cx="610.50" cy="94.20" r="2.4"/><circle cx="610.60" cy="99.00" r="2.4"/><circle cx="610.90" cy="103.10" r="2.4"/><circle cx="611.10" cy="107.20" r="2.4"/><circle cx="611.30" cy="112.20" r="2.4"/><circle cx="611.70" cy="117.30" r="2.4"/><circle cx="612.00" cy="121.30" r="2.4"/><circle cx="612.50" cy="125.20" r="2.4"/><circle cx="613.10" cy="128.70" r="2.4"/><circle cx="613.60" cy="132.60" r="2.4"/><circle cx="614.40" cy="132.00" r="2.4"/><circle cx="615.00" cy="129.10" r="2.4"/><circle cx="615.50" cy="124.60" r="2.4"/><circle cx="615.80" cy="118.70" r="2.4"/><circle cx="615.90" cy="113.00" r="2.4"/><circle cx="615.70" cy="106.70" r="2.4"/><circle cx="615.90" cy="99.40" r="2.4"/><circle cx="616.10" cy="92.30" r="2.4"/><circle cx="616.40" cy="85.30" r="2.4"/><circle cx="616.20" cy="77.00" r="2.4"/><circle cx="616.80" cy="70.20" r="2.4"/><circle cx="617.40" cy="60.60" r="2.4"/><circle cx="618.30" cy="51.90" r="2.4"/><circle cx="618.30" cy="46.50" r="2.4"/><circle cx="618.50" cy="41.60" r="2.4"/><circle cx="619.10" cy="37.30" r="2.4"/><circle cx="619.50" cy="33.10" r="2.4"/><circle cx="620.00" cy="28.20" r="2.4"/><circle cx="620.21" cy="27.25" r="2.4"/><circle cx="620.41" cy="26.30" r="2.4"/><circle cx="620.62" cy="25.34" r="2.4"/><circle cx="620.83" cy="24.39" r="2.4"/><circle cx="621.03" cy="23.55" r="2.4"/><circle cx="621.24" cy="23.26" r="2.4"/><circle cx="621.45" cy="22.97" r="2.4"/><circle cx="621.66" cy="22.68" r="2.4"/><circle cx="621.86" cy="22.39" r="2.4"/><circle cx="622.07" cy="22.17" r="2.4"/><circle cx="622.28" cy="22.06" r="2.4"/><circle cx="622.48" cy="21.96" r="2.4"/><circle cx="622.69" cy="21.85" r="2.4"/><circle cx="622.90" cy="21.75" r="2.4"/><circle cx="623.10" cy="21.65" r="2.4"/><circle cx="623.31" cy="21.54" r="2.4"/><circle cx="623.52" cy="21.50" r="2.4"/><circle cx="623.73" cy="21.50" r="2.4"/><circle cx="623.93" cy="21.50" r="2.4"/><circle cx="624.14" cy="21.50" r="2.4"/><circle cx="624.35" cy="21.50" r="2.4"/><circle cx="624.55" cy="21.50" r="2.4"/><circle cx="624.76" cy="21.50" r="2.4"/><circle cx="624.97" cy="21.50" r="2.4"/><circle cx="625.17" cy="21.50" r="2.4"/><circle cx="625.38" cy="21.50" r="2.4"/><circle cx="625.59" cy="21.50" r="2.4"/><circle cx="625.80" cy="21.50" r="2.4"/><circle cx="626.00" cy="21.50" r="2.4"/><circle cx="626.21" cy="21.50" r="2.4"/><circle cx="626.42" cy="21.50" r="2.4"/><circle cx="626.62" cy="21.50" r="2.4"/><circle cx="626.83" cy="21.50" r="2.4"/><circle cx="627.04" cy="21.50" r="2.4"/><circle cx="627.24" cy="21.50" r="2.4"/><circle cx="627.45" cy="21.50" r="2.4"/><circle cx="627.66" cy="21.50" r="2.4"/><circle cx="627.87" cy="21.50" r="2.4"/><circle cx="628.07" cy="21.50" r="2.4"/><circle cx="628.28" cy="21.50" r="2.4"/><circle cx="628.49" cy="21.50" r="2.4"/><circle cx="628.69" cy="21.50" r="2.4"/><circle cx="628.90" cy="21.50" r="2.4"/><circle cx="629.11" cy="21.50" r="2.4"/><circle cx="629.31" cy="21.50" r="2.4"/><circle cx="629.52" cy="21.50" r="2.4"/><circle cx="629.73" cy="21.50" r="2.4"/><circle cx="629.94" cy="21.50" r="2.4"/><circle cx="630.14" cy="21.50" r="2.4"/><circle cx="630.35" cy="21.50" r="2.4"/><circle cx="630.56" cy="21.50" r="2.4"/><circle cx="630.76" cy="21.51" r="2.4"/><circle cx="630.97" cy="21.51" r="2.4"/><circle cx="631.18" cy="21.51" r="2.4"/><circle cx="631.38" cy="21.51" r="2.4"/><circle cx="631.59" cy="21.51" r="2.4"/><circle cx="631.80" cy="21.52" r="2.4"/><circle cx="632.01" cy="21.52" r="2.4"/><circle cx="632.21" cy="21.52" r="2.4"/><circle cx="632.42" cy="21.52" r="2.4"/><circle cx="632.63" cy="21.52" r="2.4"/><circle cx="632.83" cy="21.52" r="2.4"/><circle cx="633.04" cy="21.53" r="2.4"/><circle cx="633.25" cy="21.53" r="2.4"/><circle cx="633.45" cy="21.53" r="2.4"/><circle cx="633.66" cy="21.53" r="2.4"/><circle cx="633.87" cy="21.53" r="2.4"/><circle cx="634.08" cy="21.53" r="2.4"/><circle cx="634.28" cy="21.54" r="2.4"/><circle cx="634.49" cy="21.54" r="2.4"/><circle cx="634.70" cy="21.54" r="2.4"/><circle cx="634.90" cy="21.54" r="2.4"/><circle cx="635.11" cy="21.54" r="2.4"/><circle cx="635.32" cy="21.55" r="2.4"/><circle cx="635.52" cy="21.55" r="2.4"/><circle cx="635.73" cy="21.55" r="2.4"/><circle cx="635.94" cy="21.55" r="2.4"/><circle cx="636.15" cy="21.55" r="2.4"/><circle cx="636.35" cy="21.55" r="2.4"/><circle cx="636.56" cy="21.56" r="2.4"/><circle cx="636.77" cy="21.56" r="2.4"/><circle cx="636.97" cy="21.56" r="2.4"/><circle cx="637.18" cy="21.56" r="2.4"/><circle cx="637.39" cy="21.56" r="2.4"/><circle cx="637.59" cy="21.56" r="2.4"/><circle cx="637.80" cy="21.57" r="2.4"/><circle cx="638.01" cy="21.57" r="2.4"/><circle cx="638.22" cy="21.57" r="2.4"/><circle cx="638.42" cy="21.57" r="2.4"/><circle cx="638.63" cy="21.57" r="2.4"/><circle cx="638.84" cy="21.58" r="2.4"/><circle cx="639.04" cy="21.58" r="2.4"/><circle cx="639.25" cy="21.58" r="2.4"/><circle cx="639.46" cy="21.58" r="2.4"/><circle cx="639.66" cy="21.58" r="2.4"/><circle cx="639.87" cy="21.58" r="2.4"/><circle cx="640.08" cy="21.59" r="2.4"/><circle cx="640.29" cy="21.59" r="2.4"/><circle cx="640.49" cy="21.59" r="2.4"/><circle cx="640.70" cy="21.59" r="2.4"/><circle cx="640.91" cy="21.59" r="2.4"/><circle cx="641.11" cy="21.59" r="2.4"/><circle cx="641.32" cy="21.60" r="2.4"/><circle cx="641.53" cy="21.60" r="2.4"/></g>
<text x="547.6" y="25.95" text-anchor="end" font-family="Liberation Sans, sans-serif" font-size="12" fill="#595959">0</text>
<text x="547.6" y="86.21" text-anchor="end" font-family="Liberation Sans, sans-serif" font-size="12" fill="#595959">-4</text>
<text x="547.6" y="146.47" text-anchor="end" font-family="Liberation Sans, sans-serif" font-size="12" fill="#595959">-8</text>
<text x="558.90" y="9.7" text-anchor="middle" font-family="Liberation Sans, sans-serif" font-size="12" fill="#595959">-0.5</text>
<text x="612.75" y="9.7" text-anchor="middle" font-family="Liberation Sans, sans-serif" font-size="12" fill="#595959">0</text>
<text x="666.60" y="9.7" text-anchor="middle" font-family="Liberation Sans, sans-serif" font-size="12" fill="#595959">0.5</text>
<text transform="translate(632.17,44.10) scale(0.673,1)" font-family="Liberation Sans, sans-serif" font-size="10.8" font-weight="bold" font-style="italic" fill="#000">E</text>
<text transform="translate(640.46,44.10) scale(1.019,1)" font-family="Liberation Sans, sans-serif" font-size="10.8" font-weight="bold" font-style="normal" fill="#000">vs.</text>
<text transform="translate(658.47,44.10) scale(0.646,1)" font-family="Liberation Sans, sans-serif" font-size="10.8" font-weight="bold" font-style="italic" fill="#000">E</text>
<text transform="translate(664.41,39.20) scale(0.942,1)" font-family="Liberation Sans, sans-serif" font-size="7.6" font-weight="bold" font-style="normal" fill="#000">0</text>
<path d="M668.7,38.2 L669.7,38.2 L671.3,34.3 L670.0,34.3 Z" fill="#000"/>
<line x1="671.6" y1="45.6" x2="675.0" y2="35.4" stroke="#000" stroke-width="1.3"/>
<text transform="translate(676.83,44.10) scale(0.907,1)" font-family="Liberation Sans, sans-serif" font-size="10.8" font-weight="bold" font-style="normal" fill="#000">V</text>
<g transform="translate(564.7,122.9) scale(0.88,0.864)" fill="none" stroke="#000" stroke-linecap="round"><path d="M6.6,0.8 L3.0,9.5" stroke-width="2.10"/><path d="M0.9,9.75 L5.4,9.75" stroke-width="0.95" stroke-linecap="butt"/><path d="M5.5,0.75 L7.9,0.75" stroke-width="0.89" stroke-linecap="butt"/><path d="M1.3,0.7 C1.0,2.5 0.6,5.6 4.0,5.6 L5.2,5.5" stroke-width="1.58"/><path d="M11.6,0.45 C10.9,2.6 10.0,5.4 5.4,5.5" stroke-width="1.26"/></g>
<text transform="translate(573.11,134.30) scale(0.830,1)" font-family="Liberation Sans, sans-serif" font-size="8.3" font-weight="bold" font-style="italic" fill="#000">dif</text>
</svg>
</body></html>
